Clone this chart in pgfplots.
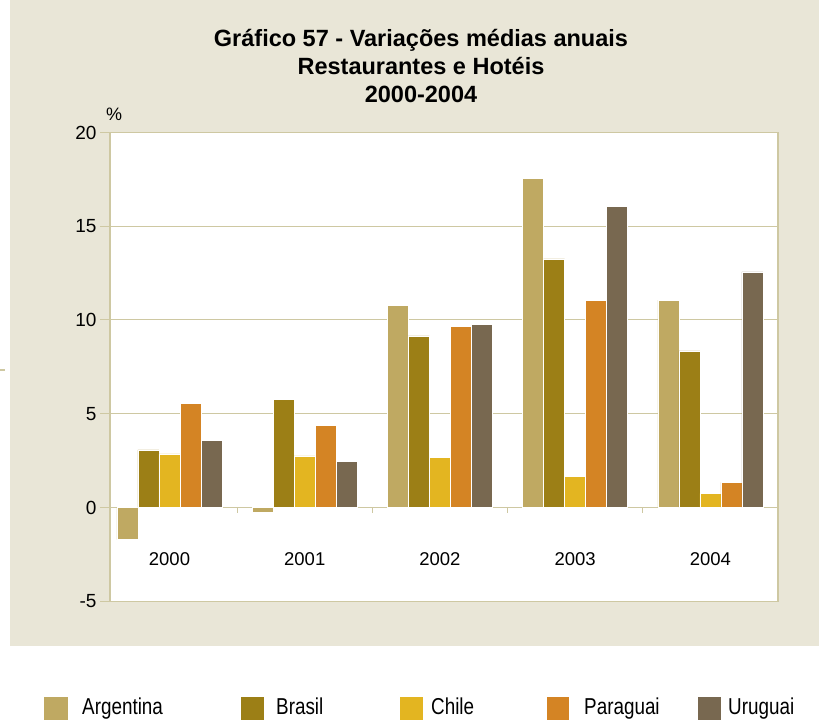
\documentclass[border=0pt]{standalone}
\usepackage{fontspec}
\setmainfont{Liberation Sans}
\newfontfamily\legfont[FakeStretch=0.82]{Liberation Sans}
\usepackage{pgfplots}
\pgfplotsset{compat=1.18}
\definecolor{bgbeige}{RGB}{233,230,215}
\definecolor{gridc}{RGB}{206,200,162}
\definecolor{cArg}{RGB}{191,169,98}
\definecolor{cBra}{RGB}{156,127,22}
\definecolor{cChi}{RGB}{227,181,33}
\definecolor{cPar}{RGB}{212,132,36}
\definecolor{cUru}{RGB}{120,104,80}
\begin{document}
\begin{tikzpicture}[x=1pt,y=1pt]
\useasboundingbox (0,0) rectangle (819,720);
\fill[white] (0,0) rectangle (819,720);
\fill[bgbeige] (10,74) rectangle (819,720);
\fill[gridc] (0,349) rectangle (5,351);
\node[anchor=base, inner sep=0, font=\bfseries\fontsize{23.5}{27}\selectfont] at (421,673.5) {Gráfico 57 - Variações médias anuais};
\node[anchor=base, inner sep=0, font=\bfseries\fontsize{23.5}{27}\selectfont] at (421,645) {Restaurantes e Hotéis};
\node[anchor=base, inner sep=0, font=\bfseries\fontsize{23.5}{27}\selectfont] at (421,617) {2000-2004};
\begin{axis}[
  at={(110pt,118.75pt)}, anchor=south west,
  scale only axis, width=668pt, height=468.75pt,
  ybar=0pt, bar width=21pt,
  xmin=-0.44, xmax=4.5, ymin=-5, ymax=20,
  ytick={-5,0,5,10,15,20},
  xtick={0,1,2,3,4}, xticklabels={2000,2001,2002,2003,2004},
  ymajorgrids, grid style={gridc, line width=1pt},
  axis line style={gridc, line width=1.2pt},
  axis background/.style={fill=white},
  tick align=outside, ytick pos=left, xtick pos=bottom,
  major tick length=10pt,
  y tick style={gridc, line width=1pt},
  x tick style={draw=none},
  /pgf/number format/assume math mode=true,
  yticklabel style={font=\fontsize{19}{22}\selectfont},
  xticklabel style={font=\fontsize{18.5}{22}\selectfont, yshift=62pt},
  ylabel={\%},
  ylabel style={rotate=-90, at={(rel axis cs:0,1)}, anchor=base west, inner sep=0, xshift=-4pt, yshift=11.5pt, font=\fontsize{18}{21}\selectfont},
  every axis plot/.append style={draw=white, line width=0.5pt},
]
\addplot[fill=cArg] coordinates {(0,-1.72) (1,-0.23) (2,10.76) (3,17.55) (4,11.06)};
\addplot[fill=cBra] coordinates {(0,3.07) (1,5.77) (2,9.15) (3,13.26) (4,8.35)};
\addplot[fill=cChi] coordinates {(0,2.86) (1,2.75) (2,2.68) (3,1.66) (4,0.75)};
\addplot[fill=cPar] coordinates {(0,5.56) (1,4.36) (2,9.65) (3,11.06) (4,1.34)};
\addplot[fill=cUru] coordinates {(0,3.58) (1,2.47) (2,9.76) (3,16.07) (4,12.56)};
\pgfplotsinvokeforeach{0.5,1.5,2.5,3.5}{
  \draw[gridc, line width=1.2pt] (axis cs:#1,0) -- ([yshift=-6pt]axis cs:#1,0);
}
\end{axis}
% legend
\fill[cArg] (44,0) rectangle (68,23);
\node[anchor=base west, inner sep=0, font=\legfont\fontsize{23}{26}\selectfont] at (82,5.5) {Argentina};
\fill[cBra] (241,0) rectangle (264,23);
\node[anchor=base west, inner sep=0, font=\legfont\fontsize{23}{26}\selectfont] at (276,5.5) {Brasil};
\fill[cChi] (400,0) rectangle (423,23);
\node[anchor=base west, inner sep=0, font=\legfont\fontsize{23}{26}\selectfont] at (431,5.5) {Chile};
\fill[cPar] (547,0) rectangle (569,23);
\node[anchor=base west, inner sep=0, font=\legfont\fontsize{23}{26}\selectfont] at (584,5.5) {Paraguai};
\fill[cUru] (698,0) rectangle (721,23);
\node[anchor=base west, inner sep=0, font=\legfont\fontsize{23}{26}\selectfont] at (728,5.5) {Uruguai};
\end{tikzpicture}
\end{document}
